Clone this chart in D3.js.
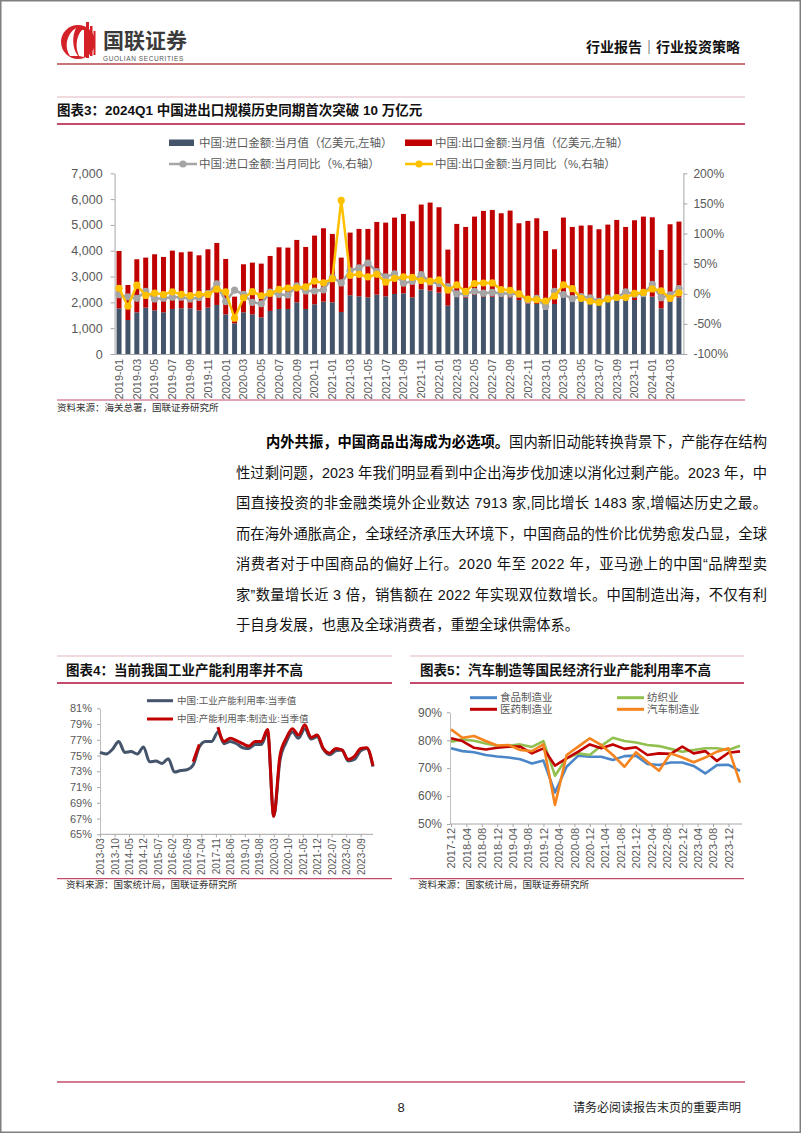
<!DOCTYPE html>
<html><head><meta charset="utf-8">
<script src="https://cdn.jsdelivr.net/npm/d3@7"></script>
<style>
html,body{margin:0;padding:0;background:#fff;}
svg{display:block;}
</style></head><body>
<svg id="page" width="802" height="1133"></svg>
<script>
// ---------------- DATA ----------------
// Chart 3: monthly trade (亿美元) and YoY (%)
const months3 = ["2019-01","2019-02","2019-03","2019-04","2019-05","2019-06","2019-07","2019-08","2019-09","2019-10","2019-11","2019-12",
"2020-01","2020-02","2020-03","2020-04","2020-05","2020-06","2020-07","2020-08","2020-09","2020-10","2020-11","2020-12",
"2021-01","2021-02","2021-03","2021-04","2021-05","2021-06","2021-07","2021-08","2021-09","2021-10","2021-11","2021-12",
"2022-01","2022-02","2022-03","2022-04","2022-05","2022-06","2022-07","2022-08","2022-09","2022-10","2022-11","2022-12",
"2023-01","2023-02","2023-03","2023-04","2023-05","2023-06","2023-07","2023-08","2023-09","2023-10","2023-11","2023-12",
"2024-01","2024-02","2024-03","2024-04"];
const importValue = [1770,1318,1615,1796,1692,1615,1744,1770,1770,1692,1796,1900,
1537,1189,1615,1537,1421,1667,1744,1744,2003,1744,1925,2028,
2003,1628,2274,2235,2196,2300,2235,2325,2351,2196,2506,2455,
2377,1873,2222,2183,2287,2222,2222,2222,2196,2093,1938,1938,
1835,1938,2248,2119,2158,2028,1964,2028,2196,2093,2093,2222,
2222,1770,2028,2196];
const exportValue = [2220,1356,2055,1938,2171,2145,2261,2170,2196,2132,2261,2402,
2145,1033,1860,2003,2080,2131,2390,2377,2416,2403,2662,2843,
2648,2106,2429,2610,2649,2816,2855,2959,3075,2946,3282,3411,
3308,2171,2817,2739,3036,3321,3359,3230,3360,2972,3217,3320,
2932,2119,3036,2803,2816,2959,2868,2985,2998,2829,3088,3101,
3075,2261,2998,2933];
const importYoY = [-1.5,-5.2,-7.6,4.0,-8.5,-7.3,-5.6,-5.6,-8.5,-6.4,0.3,16.3,
-13,6,-0.9,-14.2,-16.7,2.7,-1.4,-2.1,13.2,4.7,4.5,6.5,
27,18,38.1,43.1,51.1,36.7,28.1,33.1,17.6,20.6,31.7,19.5,
17,12,-0.1,0.0,4.1,1.0,2.3,0.3,0.3,-0.7,-10.6,-7.5,
-21,4,-1.4,-7.9,-4.5,-6.8,-12.4,-7.3,-6.2,3.0,-0.6,0.2,
15.5,-6.5,-1.9,8.4];
const exportYoY = [9.1,-20.7,14.2,-2.7,1.1,-1.3,3.3,-1.0,-3.2,-0.9,-1.1,7.6,
3,-40.6,-6.6,3.5,-3.3,0.5,7.2,9.5,9.9,11.4,21.1,18.1,
24.9,154.9,30.6,32.3,27.9,32.2,19.3,25.6,28.1,27.1,22.0,20.9,
23,6,14.7,3.9,16.9,17.9,18.0,7.1,5.7,-0.3,-8.7,-9.9,
-12,-4,14.8,8.5,-7.5,-12.4,-14.5,-8.8,-6.2,-6.4,0.5,2.3,
8,5,-7.5,1.5];
const xTicks3 = ["2019-01","2019-03","2019-05","2019-07","2019-09","2019-11","2020-01","2020-03","2020-05","2020-07","2020-09","2020-11",
"2021-01","2021-03","2021-05","2021-07","2021-09","2021-11","2022-01","2022-03","2022-05","2022-07","2022-09","2022-11",
"2023-01","2023-03","2023-05","2023-07","2023-09","2023-11","2024-01","2024-03"];
const leftTicks3 = [0,1000,2000,3000,4000,5000,6000,7000];
const rightTicks3 = [-100,-50,0,50,100,150,200];
const legend3 = ["中国:进口金额:当月值（亿美元,左轴）","中国:出口金额:当月值（亿美元,左轴）","中国:进口金额:当月同比（%,右轴）","中国:出口金额:当月同比（%,右轴）"];

// Chart 4: quarterly capacity utilization (%)
const quarters4 = ["2013-03","2013-06","2013-09","2013-12","2014-03","2014-06","2014-09","2014-12","2015-03","2015-06","2015-09","2015-12",
"2016-03","2016-06","2016-09","2016-12","2017-03","2017-06","2017-09","2017-12","2018-03","2018-06","2018-09","2018-12",
"2019-03","2019-06","2019-09","2019-12","2020-03","2020-06","2020-09","2020-12","2021-03","2021-06","2021-09","2021-12",
"2022-03","2022-06","2022-09","2022-12","2023-03","2023-06","2023-09","2023-12","2024-03"];
const industryUtil = [75.4,75.2,75.8,76.8,75.4,75.5,75.2,76.1,74.2,74.3,74.0,74.6,
72.9,73.1,73.2,73.8,76.1,76.8,76.8,78.0,76.5,76.8,76.5,76.0,
75.9,76.4,76.4,78.0,67.3,74.4,76.7,78.0,77.2,78.4,77.1,77.4,
75.8,75.1,75.6,75.7,74.3,74.5,75.6,75.9,73.6];
const manufUtil = [null,null,null,null,null,null,null,null,null,null,null,null,
null,null,null,74.2,76.4,null,null,78.6,76.8,77.2,76.9,76.5,
76.2,76.8,76.8,78.3,67.3,75.0,77.2,78.4,77.6,78.9,77.3,77.6,
75.9,75.3,75.9,75.7,74.5,74.9,75.9,76.0,73.7];
const xTicks4 = ["2013-03","2013-10","2014-05","2014-12","2015-07","2016-02","2016-09","2017-04","2017-11","2018-06","2019-01","2019-08",
"2020-03","2020-10","2021-05","2021-12","2022-07","2023-02","2023-09"];
const yTicks4 = [65,67,69,71,73,75,77,79,81];
const legend4 = ["中国:工业产能利用率:当季值","中国:产能利用率:制造业:当季值"];

// Chart 5: industry capacity utilization (%)
const quarters5 = ["2017-12","2018-03","2018-06","2018-09","2018-12","2019-03","2019-06","2019-09","2019-12","2020-03","2020-06","2020-09","2020-12",
"2021-03","2021-06","2021-09","2021-12","2022-03","2022-06","2022-09","2022-12","2023-03","2023-06","2023-09","2023-12","2024-03"];
const foodUtil = [77.1,76.1,75.7,74.7,74.2,73.8,73.2,71.7,72.7,61.3,70.5,74.5,74.1,74.1,72.9,74.3,74.5,71.5,71.1,72.0,72.0,70.8,68.1,71.1,71.2,69.0];
const textileUtil = [79.5,80.3,79.8,78.8,78.0,78.0,78.5,77.6,79.7,67.3,73.5,75.3,74.7,78.0,80.9,79.7,79.2,78.3,77.9,76.9,75.9,76.5,77.1,77.1,76.5,78.0];
const pharmaUtil = [80.7,79.7,77.3,76.7,77.3,77.7,77.7,75.3,77.1,70.9,73.5,75.9,78.5,77.1,78.5,76.9,77.5,74.7,75.3,75.1,77.7,75.3,76.1,72.6,75.5,76.0];
const autoUtil = [83.9,80.9,81.5,79.7,78.1,78.3,76.5,76.1,78.5,56.8,74.7,77.7,80.7,78.3,74.7,70.5,75.7,72.3,69.1,75.3,73.8,72.1,73.8,75.9,77.1,64.8];
const xTicks5 = ["2017-12","2018-04","2018-08","2018-12","2019-04","2019-08","2019-12","2020-04","2020-08","2020-12","2021-04","2021-08",
"2021-12","2022-04","2022-08","2022-12","2023-04","2023-08","2023-12"];
const yTicks5 = [50,60,70,80,90];
const legend5 = ["食品制造业","纺织业","医药制造业","汽车制造业"];

// Text
const paraBold = "内外共振，中国商品出海成为必选项。";
const paraLines = ["国内新旧动能转换背景下，产能存在结构",
"性过剩问题，2023 年我们明显看到中企出海步伐加速以消化过剩产能。2023 年，中",
"国直接投资的非金融类境外企业数达 7913 家,同比增长 1483 家,增幅达历史之最。",
"而在海外通胀高企，全球经济承压大环境下，中国商品的性价比优势愈发凸显，全球",
"消费者对于中国商品的偏好上行。2020 年至 2022 年，亚马逊上的中国“品牌型卖",
"家”数量增长近 3 倍，销售额在 2022 年实现双位数增长。中国制造出海，不仅有利",
"于自身发展，也惠及全球消费者，重塑全球供需体系。"];

// ---------------- DRAW ----------------
const FONT = "'Liberation Sans', Arial, 'Noto Sans CJK SC', sans-serif";
const CJK = "'Liberation Sans', 'Noto Sans CJK SC', sans-serif";
const svg = d3.select("#page").style("font-family", FONT);
const parseM = d3.timeParse("%Y-%m");

// page frame
svg.append("rect").attr("x",0.75).attr("y",0.75).attr("width",799.5).attr("height",1131.5)
  .attr("fill","none").attr("stroke","#7f7f7f").attr("stroke-width",1.5);

// header logo
const logo = svg.append("g");
logo.append("circle").attr("cx",78).attr("cy",42).attr("r",17).attr("fill","#d42027");
logo.append("path").attr("d","M70,56 C64,48 66,34 76,28 C72,36 72,48 78,56 Z").attr("fill","#fff");
logo.append("path").attr("d","M79,56 C75,48 76,36 82,30 L84,30 L84,57 Z").attr("fill","#fff");
[[86,22,3,36],[90,26,2.5,30],[93.5,31,2,24]].forEach(r=>logo.append("rect").attr("x",r[0]).attr("y",r[1]).attr("width",r[2]).attr("height",r[3]).attr("fill","#d42027"));
svg.append("text").attr("x",103).attr("y",48).attr("font-size",21).attr("font-weight","bold")
  .attr("font-family","'Noto Sans CJK SC', sans-serif").attr("fill","#3b3b3b").text("国联证券");
svg.append("text").attr("x",103).attr("y",61).attr("font-size",6.5).attr("letter-spacing",0.6)
  .attr("fill","#555").text("GUOLIAN SECURITIES");
svg.append("text").attr("x",740).attr("y",52).attr("text-anchor","end").attr("font-size",14).attr("font-weight","bold")
  .attr("font-family","'Noto Sans CJK SC', sans-serif").attr("fill","#111").text("行业报告│行业投资策略");
svg.append("line").attr("x1",57).attr("x2",745).attr("y1",64).attr("y2",64).attr("stroke","#b5474b").attr("stroke-width",1.6);

function hline(x1,x2,y,color,w){svg.append("line").attr("x1",x1).attr("x2",x2).attr("y1",y).attr("y2",y).attr("stroke",color).attr("stroke-width",w);}
function title(x,y,txt){svg.append("text").attr("x",x).attr("y",y).attr("font-size",13.5).attr("font-weight","bold")
  .attr("font-family","'Liberation Sans','Noto Sans CJK SC',sans-serif").attr("fill","#111").text(txt);}
function source(x,y,txt){svg.append("text").attr("x",x).attr("y",y).attr("font-size",9.5).attr("fill","#333")
  .attr("font-family",CJK).text(txt);}

// ---------- Chart 3 ----------
hline(57,745,97,"#e2b6c2",1.2);
title(57,115,"图表3：2024Q1 中国进出口规模历史同期首次突破 10 万亿元");
hline(57,745,124,"#c54b6c",1.8);

const x3 = d3.scaleBand().domain(months3).range([114.6,683.4]).paddingInner(0.44).paddingOuter(0.22);
const yL = d3.scaleLinear().domain([0,7000]).range([354,173.3]);
const yR = d3.scaleLinear().domain([-100,200]).range([354,173.3]);
const rows3 = months3.map((m,i)=>({m, imp:importValue[i], exp:exportValue[i]}));
const stack = d3.stack().keys(["imp","exp"])(rows3);
const barColors = {imp:"#44546a", exp:"#c00000"};
const g3 = svg.append("g");
stack.forEach(layer=>{
  g3.append("g").attr("fill",barColors[layer.key]).selectAll("rect").data(layer).join("rect")
    .attr("x",d=>x3(d.data.m)).attr("width",x3.bandwidth())
    .attr("y",d=>yL(d[1])).attr("height",d=>yL(d[0])-yL(d[1]));
});
const axisColor = "#a6a6a6";
function styleAxis(g, fs){
  g.selectAll("path.domain").attr("stroke",axisColor);
  g.selectAll(".tick line").attr("stroke",axisColor);
  g.selectAll("text").attr("fill","#595959").attr("font-size",fs).attr("font-family","'Liberation Sans',Arial,sans-serif");
}
const axL = svg.append("g").attr("transform","translate(114.6,0)")
  .call(d3.axisLeft(yL).tickValues(leftTicks3).tickFormat(d3.format(",")).tickSize(4).tickPadding(8).tickSizeOuter(0));
styleAxis(axL,12.5);
const axR = svg.append("g").attr("transform","translate(683.4,0)")
  .call(d3.axisRight(yR).tickValues(rightTicks3).tickFormat(d=>d+"%").tickSize(4).tickPadding(6).tickSizeOuter(0));
styleAxis(axR,12);
const axB = svg.append("g").attr("transform","translate(0,354)")
  .call(d3.axisBottom(x3).tickValues(xTicks3).tickSize(0).tickSizeOuter(0));
styleAxis(axB,11);
axB.selectAll("text").attr("transform","rotate(-90)").attr("x",-5).attr("y",0).attr("dy","0.35em").attr("text-anchor","end");

const cx3 = m=>x3(m)+x3.bandwidth()/2;
const lineImp = d3.line().x((d,i)=>cx3(months3[i])).y(d=>yR(d));
svg.append("path").datum(importYoY).attr("d",lineImp).attr("fill","none").attr("stroke","#a5a5a5").attr("stroke-width",2.5);
svg.append("g").attr("fill","#a5a5a5").selectAll("circle").data(importYoY).join("circle")
  .attr("cx",(d,i)=>cx3(months3[i])).attr("cy",d=>yR(d)).attr("r",3.6);
svg.append("path").datum(exportYoY).attr("d",lineImp).attr("fill","none").attr("stroke","#ffc000").attr("stroke-width",2.5);
svg.append("g").attr("fill","#ffc000").selectAll("circle").data(exportYoY).join("circle")
  .attr("cx",(d,i)=>cx3(months3[i])).attr("cy",d=>yR(d)).attr("r",3.6);

// legend 3
function legText(x,y,t,fs){svg.append("text").attr("x",x).attr("y",y).attr("dy","0.35em").attr("font-size",fs)
  .attr("fill","#595959").attr("font-family",CJK).text(t);}
svg.append("rect").attr("x",169).attr("y",139.5).attr("width",25).attr("height",6.5).attr("fill","#44546a");
legText(199,142.7,legend3[0],11.5);
svg.append("rect").attr("x",405).attr("y",139.5).attr("width",27).attr("height",6.5).attr("fill","#c00000");
legText(435,142.7,legend3[1],11.5);
svg.append("line").attr("x1",169).attr("x2",197).attr("y1",164).attr("y2",164).attr("stroke","#a5a5a5").attr("stroke-width",2.5);
svg.append("circle").attr("cx",183).attr("cy",164).attr("r",3.6).attr("fill","#a5a5a5");
legText(199,164,legend3[2],11.5);
svg.append("line").attr("x1",405).attr("x2",433).attr("y1",164).attr("y2",164).attr("stroke","#ffc000").attr("stroke-width",2.5);
svg.append("circle").attr("cx",419).attr("cy",164).attr("r",3.6).attr("fill","#ffc000");
legText(435,164,legend3[3],11.5);

hline(57,745,400,"#c54b6c",1.2);
source(57,411,"资料来源：海关总署，国联证券研究所");

// ---------- Paragraph ----------
const paraY0 = 447, paraDy = 30.5, pFs = 14.3, pL = 236, pR = 767;
const bold = svg.append("text").attr("x",266).attr("y",paraY0).attr("font-size",pFs).attr("font-weight","bold")
  .attr("font-family","'Noto Sans CJK SC',sans-serif").attr("fill","#000").text(paraBold);
const bw = bold.node().getComputedTextLength();
paraLines.forEach((t,i)=>{
  const x = i===0 ? 266+bw : pL;
  const tx = svg.append("text").attr("x",x).attr("y",paraY0+paraDy*i).attr("font-size",pFs)
    .attr("font-family",CJK).attr("fill","#111").text(t);
  if(i<paraLines.length-1){ tx.attr("textLength",pR-x).attr("lengthAdjust","spacing"); }
});

// ---------- Chart 4 ----------
hline(57,392,656,"#e2b6c2",1.2);
title(66,675,"图表4：当前我国工业产能利用率并不高");
hline(57,392,683,"#c54b6c",1.8);
const x4 = d3.scaleTime().domain([parseM("2013-03"),parseM("2024-03")]).range([100,373]);
const y4 = d3.scaleLinear().domain([65,81]).range([834.3,708.3]);
const ax4L = svg.append("g").attr("transform","translate(100,0)")
  .call(d3.axisLeft(y4).tickValues(yTicks4).tickFormat(d=>d+"%").tickSize(3).tickPadding(5).tickSizeOuter(0));
styleAxis(ax4L,11);
ax4L.selectAll("path.domain").attr("stroke","#bfbfbf");
const ax4B = svg.append("g").attr("transform","translate(0,834.3)")
  .call(d3.axisBottom(x4).tickValues(xTicks4.map(parseM)).tickFormat(d3.timeFormat("%Y-%m")).tickSize(3).tickSizeOuter(0));
styleAxis(ax4B,10);
ax4B.select("path.domain").attr("d","M100,0H373");
ax4B.selectAll("text").attr("transform","rotate(-90)").attr("x",-4).attr("y",0).attr("dy","0.35em").attr("text-anchor","end");
const line4 = d3.line().defined(d=>d.v!=null).x(d=>x4(parseM(d.q))).y(d=>y4(d.v)).curve(d3.curveMonotoneX);
svg.append("path").datum(quarters4.map((q,i)=>({q,v:industryUtil[i]}))).attr("d",line4)
  .attr("fill","none").attr("stroke","#44546a").attr("stroke-width",3);
svg.append("path").datum(quarters4.map((q,i)=>({q,v:manufUtil[i]}))).attr("d",line4)
  .attr("fill","none").attr("stroke","#c00000").attr("stroke-width",3);
svg.append("line").attr("x1",147).attr("x2",173).attr("y1",700.7).attr("y2",700.7).attr("stroke","#44546a").attr("stroke-width",3);
legText(177,700.7,legend4[0],9.5);
svg.append("line").attr("x1",147).attr("x2",173).attr("y1",719).attr("y2",719).attr("stroke","#c00000").attr("stroke-width",3);
legText(177,719,legend4[1],9.5);
hline(57,392,878.7,"#c54b6c",1.2);
source(66,888,"资料来源：国家统计局，国联证券研究所");

// ---------- Chart 5 ----------
hline(410,744,656,"#e2b6c2",1.2);
title(420,675,"图表5：汽车制造等国民经济行业产能利用率不高");
hline(410,744,683,"#c54b6c",1.8);
const x5 = d3.scaleTime().domain([parseM("2017-12"),parseM("2024-03")]).range([451,740]);
const y5 = d3.scaleLinear().domain([50,90]).range([824,712.3]);
const ax5L = svg.append("g").attr("transform","translate(450,0)")
  .call(d3.axisLeft(y5).tickValues(yTicks5).tickFormat(d=>d+"%").tickSize(3).tickPadding(5).tickSizeOuter(0));
styleAxis(ax5L,12);
ax5L.selectAll("path.domain").attr("stroke","#bfbfbf");
const ax5B = svg.append("g").attr("transform","translate(0,824)")
  .call(d3.axisBottom(x5).tickValues(xTicks5.map(parseM)).tickFormat(d3.timeFormat("%Y-%m")).tickSize(3).tickSizeOuter(0));
styleAxis(ax5B,11);
ax5B.select("path.domain").attr("d","M450,0H742");
ax5B.selectAll("text").attr("transform","rotate(-90)").attr("x",-4).attr("y",0).attr("dy","0.35em").attr("text-anchor","end");
const line5 = d3.line().x(d=>x5(parseM(d.q))).y(d=>y5(d.v));
const series5 = [[foodUtil,"#4a86c8"],[textileUtil,"#92c050"],[pharmaUtil,"#c00000"],[autoUtil,"#f5841f"]];
series5.forEach(([vals,col])=>{
  svg.append("path").datum(quarters5.map((q,i)=>({q,v:vals[i]}))).attr("d",line5)
    .attr("fill","none").attr("stroke",col).attr("stroke-width",2.6).attr("stroke-linejoin","round");
});
const leg5 = [[470,697.7,0],[617,697.7,1],[470,709.3,2],[617,709.3,3]];
leg5.forEach(([x,y,k])=>{
  svg.append("line").attr("x1",x).attr("x2",x+27).attr("y1",y).attr("y2",y).attr("stroke",series5[k][1]).attr("stroke-width",3);
  legText(x+30,y,legend5[k],10.5);
});
hline(410,744,878.7,"#c54b6c",1.2);
source(418,888,"资料来源：国家统计局，国联证券研究所");

// ---------- Footer ----------
hline(57,745,1082,"#c54b6c",1.6);
svg.append("text").attr("x",401).attr("y",1112).attr("text-anchor","middle").attr("font-size",13).attr("fill","#222").text("8");
svg.append("text").attr("x",741).attr("y",1112).attr("text-anchor","end").attr("font-size",12)
  .attr("font-family",CJK).attr("fill","#222").text("请务必阅读报告末页的重要声明");
</script>
</body></html>
